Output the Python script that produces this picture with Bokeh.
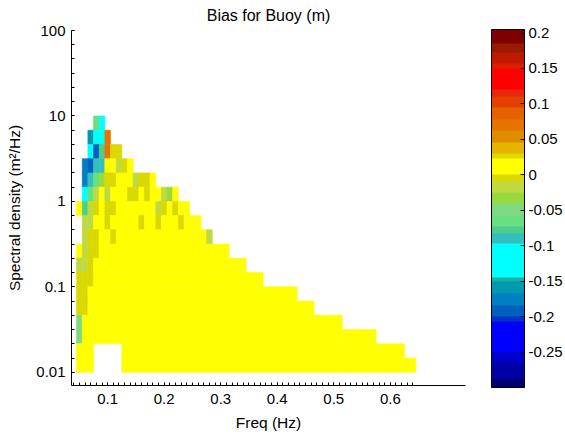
import math
from bokeh.plotting import figure
from bokeh.models import (LinearColorMapper, ColorBar, FixedTicker,
                          CustomJSTickFormatter, ColumnDataSource, Range1d)
from bokeh.embed import file_html
from bokeh.resources import INLINE

# ---------------- data ----------------
# frequency bin centres (Hz), 0.01 Hz wide
freq = [round(0.05 + 0.01 * i, 3) for i in range(60)]
freq_width = 0.01
# spectral-density bin edges (m^2/Hz), 6 bins per decade, from 0.01 up to 10
dens_edges = [10 ** (k / 6) for k in range(-12, 7)]

# bias level (m) read for each colour class seen in the picture
bias_levels = {
    "Y": 0.01,    # yellow
    "o": -0.005,  # olive
    "l": -0.017,  # yellow-green
    "g": -0.032,  # green
    "G": -0.048,  # pale green
    "m": -0.065,  # medium green
    "t": -0.078,  # green-teal
    "T": -0.090,  # teal
    "c": -0.120,  # cyan
    "d": -0.160,  # teal-blue
    "b": -0.176,  # blue
    "B": -0.192,  # darker blue
    "r": 0.070,   # orange
}

# rows of cells, top row (density 10^(5/6)..10) first, '.' = empty
# columns grouped by 10 frequency bins
bias_rows = [
    "...mc",
    "..dccr",
    "..cBtroo",
    ".bBTTYYloY",
    ".bTmgooYYY looY",
    ".cmlYlYYYo oYoYYlgY",
    "YtloYooYYY YYYYloYoYY",
    ".llYYoYYYY YoYYoYYYoY YY",
    ".looYYoYYY YYYYYYYYYY YYYl",
    "YlooYYYYYY YYYYYYYYYY YYYYYYY",
    "lloYYYYYYY YYYYYYYYYY YYYYYYYYYY",
    "oooYYYYYYY YYYYYYYYYY YYYYYYYYYY YYY",
    "ooYYYYYYYY YYYYYYYYYY YYYYYYYYYY YYYYYYYYY",
    "ooYYYYYYYY YYYYYYYYYY YYYYYYYYYY YYYYYYYYYY YY",
    "GYYYYYYYYY YYYYYYYYYY YYYYYYYYYY YYYYYYYYYY YYYYYYY",
    "GYYYYYYYYY YYYYYYYYYY YYYYYYYYYY YYYYYYYYYY YYYYYYYYYY YYY",
    "YYY.....YY YYYYYYYYYY YYYYYYYYYY YYYYYYYYYY YYYYYYYYYY YYYYYYYY",
    "YYY.....YY YYYYYYYYYY YYYYYYYYYY YYYYYYYYYY YYYYYYYYYY YYYYYYYYYY",
]

# colour scale bands of the colour bar (bias, m)
band_edges = [-0.300, -0.288, -0.264, -0.250, -0.208, -0.200, -0.184, -0.168,
              -0.151, -0.144, -0.097, -0.083, -0.073, -0.057, -0.040, -0.024,
              -0.010, 0.000, 0.023, 0.030, 0.046, 0.063, 0.077, 0.094, 0.110,
              0.120, 0.150, 0.157, 0.173, 0.185, 0.205]
band_colors = ["#000073", "#0000A6", "#0000CC", "#0000FF", "#0033CC", "#0060C0",
               "#0080C0", "#0099B0", "#19B0A8", "#00FFFF", "#33BFBF", "#4DCC8C",
               "#66E080", "#80D980", "#99D940", "#BFD940", "#D9D900", "#FFFF00",
               "#E0D900", "#E6B300", "#E08C00", "#E67300", "#E66100", "#E64000",
               "#E6260D", "#FF0000", "#D91F00", "#BF1A00", "#991A00", "#800000"]
cb_ticks = [-0.25, -0.2, -0.15, -0.1, -0.05, 0, 0.05, 0.1, 0.15, 0.2]
x_major = [0.1, 0.2, 0.3, 0.4, 0.5, 0.6]
x_minor = [round(0.04 + 0.01 * i, 2) for i in range(61)]
y_major = [0.01, 0.1, 1, 10, 100]
y_minor = [10 ** (k / 6) for k in range(-12, 13)]

# ---------------- build ----------------
lo, hi = band_edges[0], band_edges[-1]
nbin = 202
step = (hi - lo) / nbin
palette = []
for i in range(nbin):
    c = lo + (i + 0.5) * step
    for b in range(len(band_colors)):
        if band_edges[b] <= c < band_edges[b + 1]:
            palette.append(band_colors[b])
            break
    else:
        palette.append(band_colors[-1])
mapper = LinearColorMapper(palette=palette, low=lo, high=hi)

L, R, B, T, V = [], [], [], [], []
nrows = len(bias_rows)
for r, row in enumerate(bias_rows):
    k = nrows - 1 - r
    cells = row.replace(" ", "")
    for j, ch in enumerate(cells):
        if ch == ".":
            continue
        L.append(freq[j] - freq_width / 2)
        R.append(freq[j] + freq_width / 2)
        B.append(dens_edges[k])
        T.append(dens_edges[k + 1])
        V.append(bias_levels[ch])
src = ColumnDataSource(dict(left=L, right=R, bottom=B, top=T, bias=V))

FONT = "Liberation Sans"
p = figure(width=565, height=435, x_range=Range1d(0.036, 0.733),
           y_range=Range1d(0.007, 100), y_axis_type="log",
           output_backend="svg", toolbar_location=None,
           min_border_left=71, min_border_right=97, min_border_top=30,
           min_border_bottom=50, title="Bias for Buoy (m)")
p.grid.visible = False
p.outline_line_color = None
p.background_fill_color = "white"

p.quad(left="left", right="right", bottom="bottom", top="top", source=src,
       fill_color={"field": "bias", "transform": mapper},
       line_color={"field": "bias", "transform": mapper}, line_width=0.6)

p.title.align = "center"
p.title.vertical_align = "top"
p.title.text_font = FONT
p.title.text_font_size = "16px"
p.title.text_font_style = "normal"
p.title.text_color = "black"

p.xaxis.ticker = FixedTicker(ticks=x_major, minor_ticks=x_minor)
p.yaxis.ticker = FixedTicker(ticks=y_major, minor_ticks=y_minor)
p.yaxis.formatter = CustomJSTickFormatter(code="return String(tick);")
p.xaxis.axis_label = "Freq (Hz)"
p.yaxis.axis_label = "Spectral density (m\u00b2/Hz)"
for ax in (p.xaxis[0], p.yaxis[0]):
    ax.axis_line_color = "black"
    ax.major_tick_line_color = "black"
    ax.minor_tick_line_color = "black"
    ax.major_tick_in = 3
    ax.major_tick_out = 0
    ax.minor_tick_in = 3
    ax.minor_tick_out = 0
    ax.major_label_text_font = FONT
    ax.major_label_text_font_size = "15px"
    ax.major_label_text_color = "black"
    ax.axis_label_text_font = FONT
    ax.axis_label_text_font_size = "15.5px"
    ax.axis_label_text_font_style = "normal"
    ax.axis_label_text_color = "black"
p.xaxis.major_label_standoff = 8
p.xaxis.axis_label_standoff = 7
p.yaxis.major_label_standoff = 6
p.yaxis.axis_label_standoff = 10

cb = ColorBar(color_mapper=mapper, width=33, height=358, location=(26, -2),
              margin=0, padding=0,
              ticker=FixedTicker(ticks=cb_ticks),
              formatter=CustomJSTickFormatter(code="return String(tick);"),
              major_label_text_font=FONT, major_label_text_font_size="15px",
              major_label_text_color="black", label_standoff=4,
              major_tick_in=4, major_tick_out=0, major_tick_line_color="black",
              bar_line_color="black", border_line_color=None,
              background_fill_color="white")
p.add_layout(cb, "right")

open("out.html", "w").write(file_html(p, INLINE))
